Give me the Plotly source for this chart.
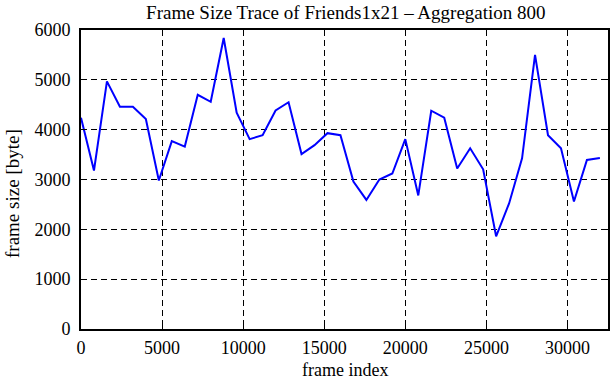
import plotly.graph_objects as go

frame_index = [i * 800 for i in range(41)]
frame_size = [4240, 3180, 4970, 4460, 4460, 4215, 2980, 3770, 3660, 4700,
              4560, 5840, 4340, 3810, 3890, 4385, 4550, 3510, 3690, 3930,
              3890, 2960, 2590, 3000, 3120, 3810, 2680, 4380, 4240, 3220,
              3626, 3205, 1860, 2520, 3425, 5500, 3890, 3626, 2560, 3392, 3430]
x_ticks = [0, 5000, 10000, 15000, 20000, 25000, 30000]
y_ticks = [0, 1000, 2000, 3000, 4000, 5000, 6000]

font_family = "Liberation Serif"

fig = go.Figure()
fig.add_trace(go.Scatter(x=frame_index, y=frame_size, mode="lines",
                         line=dict(color="#0000ff", width=2)))

axis_common = dict(
    showline=True, linecolor="black", linewidth=2, mirror="ticks",
    ticks="inside", ticklen=6, tickwidth=1, tickcolor="black",
    showgrid=True, gridcolor="black", gridwidth=1, griddash="6px,4px",
    zeroline=False, automargin=False,
    tickfont=dict(family=font_family, size=18, color="black"),
)

fig.update_layout(
    width=611, height=380,
    margin=dict(l=81, r=3, t=30, b=51),
    paper_bgcolor="white", plot_bgcolor="white",
    font=dict(family=font_family, color="black"),
    showlegend=False,
    title=dict(text="Frame Size Trace of Friends1x21 \u2013 Aggregation 800",
               x=0.566, xanchor="center", y=1 - 12.5 / 380, yanchor="middle",
               font=dict(family=font_family, size=19, color="black")),
    xaxis=dict(range=[0, 32500], tickvals=x_ticks,
               ticktext=[str(v) for v in x_ticks], ticklabelstandoff=1,
               **axis_common),
    yaxis=dict(range=[0, 6000], tickvals=y_ticks,
               ticktext=[str(v) for v in y_ticks], ticklabelstandoff=5,
               **axis_common),
    annotations=[
        dict(text="frame index", xref="paper", yref="paper",
             x=0.5, y=(329 - 370) / 299, xanchor="center", yanchor="middle",
             showarrow=False,
             font=dict(family=font_family, size=18, color="black")),
        dict(text="frame size [byte]", xref="paper", yref="paper",
             x=(12 - 81) / 527, y=(329 - 194) / 299, xanchor="center",
             yanchor="middle", textangle=-90, showarrow=False,
             font=dict(family=font_family, size=19, color="black")),
    ],
)

fig.write_html(
    "out.html",
    config={"displayModeBar": False},
    post_script="document.body.style.margin='0';"
                "document.body.style.overflow='hidden';",
)
